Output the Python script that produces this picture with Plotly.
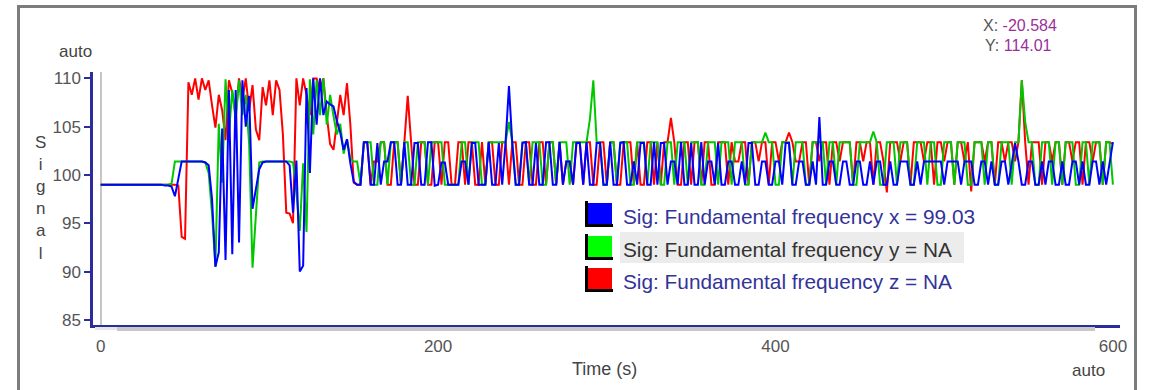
import plotly.graph_objects as go

# ---------------- data (2 s sampling) ----------------
time_s = list(range(0, 601, 2))

# Sig: Fundamental frequency x (blue)
sig_x = [
    99.0, 99.0, 99.0, 99.0, 99.0, 99.0, 99.0, 99.0, 99.0, 99.0,
    99.0, 99.0, 99.0, 99.0, 99.0, 99.0, 99.0, 99.0, 99.0,
    98.9, 98.9, 98.8, 97.8, 99.6,
    101.4, 101.4, 101.4, 101.4, 101.4, 101.4, 101.4,
    101.3, 101.0, 97.5, 90.5, 92.0,
    104.8, 91.2, 108.8, 91.8, 108.8,
    93.0, 109.8, 105.0, 108.2, 96.5,
    98.6, 100.6, 101.3,
    101.4, 101.4, 101.4, 101.4, 101.4, 101.4, 101.4,
    101.0, 96.1, 101.5, 90.0, 90.6,
    109.0, 100.2, 110.0, 105.2, 110.0,
    106.2, 107.6, 107.3, 107.1, 105.6,
    104.4, 102.6, 103.7, 101.2, 99.3,
    # t = 152 .. 600
    99.0, 99.0, 103.4, 103.4, 99.0, 99.0, 103.3, 99.0, 101.4, 101.4,
    103.4, 103.4, 99.0, 99.0, 103.4, 99.0, 99.0, 103.3, 103.3, 99.0,
    99.0, 103.4, 103.4, 98.9, 99.0, 101.3, 101.3, 99.0, 99.0, 99.0,
    99.0, 101.4, 101.4, 99.0, 103.3, 103.3, 99.0, 99.0, 99.0, 103.4,
    99.0, 99.0, 103.3, 99.0, 103.4, 109.2, 103.2, 99.0, 99.0, 103.3,
    103.4, 99.0, 99.0, 103.3, 99.0, 99.0, 103.4, 103.4, 99.0, 99.0,
    103.4, 99.0, 101.4, 101.4, 99.0, 103.3, 103.3, 99.0, 103.4, 99.0,
    99.0, 103.3, 103.3, 99.0, 99.0, 103.4, 99.0, 99.0, 103.3, 103.4,
    99.0, 99.0, 101.4, 99.0, 103.3, 103.3, 99.0, 99.0, 103.4, 99.0,
    103.3, 103.3, 99.0, 101.4, 101.4, 99.0, 103.4, 99.0, 99.0, 103.3,
    99.0, 99.0, 103.4, 99.0, 101.4, 101.4, 99.0, 103.3, 99.0, 99.0,
    101.4, 101.4, 99.0, 99.0, 101.4, 99.0, 103.3, 103.3, 99.0, 99.0,
    101.4, 101.4, 99.0, 99.0, 101.4, 101.4, 99.0, 103.3, 103.3, 99.0,
    99.0, 101.4, 101.4, 99.0, 99.0, 101.4, 99.0, 106.0, 99.0, 99.0,
    101.4, 101.4, 99.0, 99.0, 101.4, 101.4, 99.0, 99.0, 101.4, 101.4,
    99.0, 99.0, 101.4, 99.0, 101.4, 101.4, 99.0, 99.0, 101.4, 99.0,
    99.0, 101.4, 101.4, 101.4, 99.0, 99.0, 101.4, 99.0, 101.4, 101.4,
    101.4, 101.4, 101.4, 101.4, 99.0, 101.4, 101.4, 101.4, 101.4, 99.0,
    101.4, 101.4, 101.4, 99.0, 99.0, 101.4, 101.4, 99.0, 101.4, 99.0,
    99.0, 101.4, 101.4, 99.0, 101.4, 103.3, 101.4, 99.0, 99.0, 101.4,
    101.4, 99.0, 99.0, 101.4, 99.0, 101.4, 101.4, 99.0, 99.0, 101.4,
    99.0, 99.0, 101.4, 101.4, 99.0, 101.4, 99.0, 99.0, 101.4, 101.4,
    99.0, 101.4, 99.0, 101.4, 103.4,
]

# Sig: Fundamental frequency y (green)
sig_y = [
    99.0, 99.0, 99.0, 99.0, 99.0, 99.0, 99.0, 99.0, 99.0, 99.0,
    99.0, 99.0, 99.0, 99.0, 99.0, 99.0, 99.0, 99.0, 99.0, 99.0, 99.0,
    99.1, 101.4,
    101.4, 101.4, 101.4, 101.4, 101.4, 101.4, 101.4, 101.4,
    101.3, 100.2, 96.0, 90.5, 105.3, 99.2, 109.9, 104.2, 108.8, 105.7,
    109.8, 106.2, 108.3, 103.2, 90.4, 96.2, 101.3,
    101.4, 101.4, 101.4, 101.4, 101.4, 101.4, 101.4, 101.4, 101.4,
    101.3, 98.2, 94.2, 101.2, 94.1, 109.9, 104.2, 109.8, 106.2, 110.0,
    105.2, 108.3, 106.1, 104.2, 105.3, 102.2, 103.7, 101.7, 101.4,
    # t = 152 .. 600
    101.4, 99.0, 103.4, 103.4, 103.4, 99.0, 99.0, 103.4, 103.4, 99.0,
    103.4, 103.4, 103.4, 99.0, 103.4, 103.4, 99.0, 99.0, 103.4, 103.4,
    103.4, 99.0, 103.4, 103.4, 103.4, 103.4, 99.0, 99.0, 99.0, 99.0,
    99.0, 103.4, 103.4, 99.0, 103.4, 103.4, 103.4, 99.0, 99.0, 103.4,
    103.4, 103.4, 103.4, 103.4, 103.4, 105.5, 103.4, 99.0, 99.0, 103.4,
    103.4, 99.0, 103.4, 103.4, 103.4, 99.0, 99.0, 103.4, 103.4, 99.0,
    103.4, 103.4, 103.4, 99.0, 103.4, 103.4, 103.4, 103.4, 103.4, 105.8,
    109.8, 103.4, 103.4, 99.0, 99.0, 103.4, 103.4, 99.0, 103.4, 103.4,
    103.4, 99.0, 99.0, 103.4, 103.4, 103.4, 99.0, 103.4, 103.4, 103.4,
    99.0, 99.0, 103.4, 103.4, 99.0, 103.4, 103.4, 103.4, 99.0, 103.4,
    103.4, 103.4, 99.0, 99.0, 103.4, 103.4, 103.4, 99.0, 103.4, 103.4,
    103.4, 99.0, 103.4, 103.4, 103.4, 99.0, 99.0, 103.4, 103.4, 103.4,
    103.4, 104.4, 103.4, 103.4, 99.0, 99.0, 103.4, 103.4, 103.4, 99.0,
    103.4, 103.4, 103.4, 99.0, 99.0, 103.4, 103.4, 103.4, 103.4, 99.0,
    103.4, 103.4, 99.0, 103.4, 103.4, 103.4, 103.4, 99.0, 99.0, 103.4,
    103.4, 103.4, 103.4, 104.5, 103.4, 99.0, 99.0, 103.4, 103.4, 103.4,
    99.0, 103.4, 103.4, 103.4, 99.0, 99.0, 103.4, 103.4, 103.4, 99.0,
    103.4, 103.4, 99.0, 99.0, 103.4, 103.4, 103.4, 99.0, 103.4, 103.4,
    103.4, 99.0, 99.0, 103.4, 103.4, 103.4, 99.0, 103.4, 103.4, 99.0,
    99.0, 103.4, 103.4, 103.4, 99.0, 103.4, 103.4, 109.8, 105.5, 103.4,
    103.4, 99.0, 99.0, 103.4, 103.4, 103.4, 99.0, 103.4, 103.4, 99.0,
    103.4, 103.4, 103.4, 99.0, 99.0, 103.4, 103.4, 99.0, 103.4, 103.4,
    103.4, 99.0, 103.4, 103.4, 99.0,
]

# Sig: Fundamental frequency z (red)
sig_z = [
    99.0, 99.0, 99.0, 99.0, 99.0, 99.0, 99.0, 99.0, 99.0, 99.0,
    99.0, 99.0, 99.0, 99.0, 99.0, 99.0, 99.0, 99.0, 99.0, 99.0,
    99.0, 99.0, 99.0,
    98.9, 93.6, 93.4, 109.6, 108.3, 110.0, 107.8, 110.0, 108.8, 109.8,
    107.2, 104.9, 108.3, 106.7, 103.6, 109.8, 108.5, 106.2, 110.0, 107.8,
    110.0, 106.7, 109.3, 104.7, 103.6, 109.1, 107.2, 109.8, 106.2, 109.8,
    108.8, 104.2, 96.1, 96.0, 95.0, 110.0, 107.2, 110.0, 108.3, 106.2,
    110.0, 110.0, 108.8, 110.0, 106.2, 103.2, 102.6, 105.2, 108.3, 106.2,
    109.5, 105.2, 99.2,
    # t = 152 .. 600
    99.0, 99.0, 103.4, 103.4, 99.0, 101.4, 101.4, 103.4, 103.4, 99.0,
    99.0, 103.4, 103.4, 99.0, 103.4, 108.2, 103.4, 99.0, 99.0, 103.4,
    103.4, 99.0, 99.0, 103.4, 103.4, 99.0, 103.4, 103.4, 99.0, 99.0,
    103.4, 103.4, 99.0, 103.4, 103.4, 99.0, 99.0, 103.4, 99.0, 103.4,
    103.4, 99.0, 99.0, 103.4, 103.4, 99.0, 103.4, 103.4, 99.0, 99.0,
    103.4, 103.4, 99.0, 99.0, 103.4, 103.4, 99.0, 103.4, 103.4, 99.0,
    103.4, 99.0, 101.4, 101.4, 99.0, 103.4, 103.4, 99.0, 103.4, 103.4,
    99.0, 99.0, 103.4, 103.4, 99.0, 103.4, 103.4, 99.0, 99.0, 103.4,
    103.4, 103.4, 99.0, 103.4, 99.0, 99.0, 103.4, 103.4, 99.0, 103.4,
    99.0, 103.4, 103.4, 105.9, 103.4, 99.0, 99.0, 103.4, 103.4, 99.0,
    103.4, 103.4, 99.0, 103.4, 103.4, 99.0, 99.0, 103.4, 103.4, 103.4,
    99.0, 103.4, 101.4, 101.4, 103.4, 103.4, 99.0, 103.4, 103.4, 101.4,
    103.4, 103.4, 99.0, 103.4, 103.4, 101.4, 103.4, 103.4, 104.4, 103.4,
    101.4, 101.4, 103.4, 103.4, 99.0, 103.4, 103.4, 101.4, 103.4, 103.4,
    99.0, 103.4, 103.4, 101.4, 103.4, 103.4, 103.4, 99.0, 103.4, 103.4,
    101.4, 103.4, 103.4, 99.0, 103.4, 103.4, 101.4, 98.2, 103.4, 103.4,
    103.4, 101.4, 103.4, 103.4, 99.0, 103.4, 103.4, 103.4, 101.4, 103.4,
    103.4, 99.0, 103.4, 103.4, 101.4, 103.4, 103.4, 99.0, 103.4, 103.4,
    101.4, 103.4, 98.3, 103.4, 103.4, 103.4, 101.4, 103.4, 103.4, 99.0,
    103.4, 103.4, 101.4, 103.4, 103.4, 101.4, 103.4, 109.8, 103.4, 99.0,
    103.4, 103.4, 103.4, 99.0, 103.4, 103.4, 101.4, 103.4, 103.4, 99.0,
    103.4, 103.4, 101.4, 103.4, 103.4, 99.0, 103.4, 103.4, 101.4, 103.4,
    103.4, 99.0, 103.4, 103.4, 103.2,
]

assert len(sig_x) == len(time_s), len(sig_x)
assert len(sig_y) == len(time_s), len(sig_y)
assert len(sig_z) == len(time_s), len(sig_z)

series_names = ["Sig: Fundamental frequency x = 99.03",
                "Sig: Fundamental frequency y = NA",
                "Sig: Fundamental frequency z = NA"]
x_ticks = [0, 200, 400, 600]
y_ticks = [85, 90, 95, 100, 105, 110]

# ---------------- layout helpers ----------------
W, H = 1150, 390
ML, MR, MT, MB = 93, 30, 72, 65
PW, PH = W - ML - MR, H - MT - MB
FONT = "Liberation Sans, Arial, sans-serif"
AXIS = "#2c2c9c"


def px(x):
    return (x - ML) / PW


def py(y):
    return (H - MB - y) / PH


fig = go.Figure()
for vals, col in [(sig_z, "#ff0000"), (sig_y, "#00c800"), (sig_x, "#0000ff")]:
    fig.add_trace(go.Scatter(x=time_s, y=vals, mode="lines",
                             line=dict(color=col, width=2),
                             hoverinfo="skip"))

shapes = []
# outer frame
shapes.append(dict(type="rect", xref="paper", yref="paper",
                   x0=px(18.5), x1=px(1135.5), y0=py(420), y1=py(6.5),
                   line=dict(color="#7c7c7c", width=3), layer="below"))
# inner grey vertical line next to the y axis
shapes.append(dict(type="line", xref="paper", yref="paper",
                   x0=px(101), x1=px(101), y0=py(325), y1=py(72),
                   line=dict(color="#c6c6c6", width=2), layer="below"))
# grey bar under the x axis
shapes.append(dict(type="rect", xref="paper", yref="paper",
                   x0=px(95), x1=px(117), y0=py(330), y1=py(327),
                   fillcolor="#e6e6e6", line=dict(width=0)))
shapes.append(dict(type="rect", xref="paper", yref="paper",
                   x0=px(117), x1=px(1095), y0=py(331), y1=py(327),
                   fillcolor="#c8c8c8", line=dict(width=0)))

# legend
legend_cols = ["#0000ff", "#00ff00", "#ff0000"]
legend_txt_cols = ["#33339a", "#333333", "#33339a"]
row_top = [203, 236, 268]
shapes.append(dict(type="rect", xref="paper", yref="paper",
                   x0=px(620), x1=px(964), y0=py(263), y1=py(232),
                   fillcolor="#ececec", line=dict(width=0), layer="below"))
annotations = []
for name, c, tc, y0 in zip(series_names, legend_cols, legend_txt_cols, row_top):
    shapes.append(dict(type="rect", xref="paper", yref="paper",
                       x0=px(585), x1=px(613), y0=py(y0 + 24), y1=py(y0 + 21),
                       fillcolor="#000000", line=dict(width=0)))
    shapes.append(dict(type="rect", xref="paper", yref="paper",
                       x0=px(585), x1=px(588), y0=py(y0 + 24), y1=py(y0 - 2),
                       fillcolor="#000000", line=dict(width=0)))
    shapes.append(dict(type="rect", xref="paper", yref="paper",
                       x0=px(588), x1=px(612), y0=py(y0 + 21), y1=py(y0),
                       fillcolor=c, line=dict(width=0)))
    annotations.append(dict(xref="paper", yref="paper", x=px(621), y=py(y0 + 13),
                            xanchor="left", yanchor="middle", showarrow=False,
                            text=name, font=dict(family=FONT, size=20.8, color=tc)))

# other texts
annotations += [
    dict(xref="paper", yref="paper", x=px(75), y=py(51), text="auto",
         showarrow=False, xanchor="center", yanchor="middle",
         font=dict(family=FONT, size=17, color="#444444")),
    dict(xref="paper", yref="paper", x=px(1088), y=py(370), text="auto",
         showarrow=False, xanchor="center", yanchor="middle",
         font=dict(family=FONT, size=17, color="#444444")),
    dict(xref="paper", yref="paper", x=px(604), y=py(369), text="Time (s)",
         showarrow=False, xanchor="center", yanchor="middle",
         font=dict(family=FONT, size=18, color="#444444")),
    dict(xref="paper", yref="paper", x=px(40), y=py(198),
         text="S<br>i<br>g<br>n<br>a<br>l",
         showarrow=False, xanchor="center", yanchor="middle",
         font=dict(family=FONT, size=17, color="#444444")),
    dict(xref="paper", yref="paper", x=px(981), y=py(26),
         text="X: <span style='color:#9b309b'>-20.584</span>",
         showarrow=False, xanchor="left", yanchor="middle",
         font=dict(family=FONT, size=16, color="#555555")),
    dict(xref="paper", yref="paper", x=px(983), y=py(46),
         text="Y: <span style='color:#9b309b'>114.01</span>",
         showarrow=False, xanchor="left", yanchor="middle",
         font=dict(family=FONT, size=16, color="#555555")),
]

fig.update_layout(
    width=W, height=H,
    margin=dict(l=ML, r=MR, t=MT, b=MB, pad=0),
    paper_bgcolor="white", plot_bgcolor="white",
    showlegend=False,
    shapes=shapes, annotations=annotations,
    xaxis=dict(range=[-4.56, 604.2], showgrid=False, zeroline=False,
               showline=True, linecolor=AXIS, linewidth=2.5,
               tickvals=x_ticks, ticks="", ticklabelstandoff=4,
               tickfont=dict(family=FONT, size=17, color="#555555")),
    yaxis=dict(range=[84.47, 110.66], showgrid=False, zeroline=False,
               showline=True, linecolor=AXIS, linewidth=2.5,
               tickvals=y_ticks, ticks="outside", ticklen=6, tickwidth=2,
               tickcolor=AXIS,
               tickfont=dict(family=FONT, size=17, color="#555555")),
)

fig.write_html("out.html")
